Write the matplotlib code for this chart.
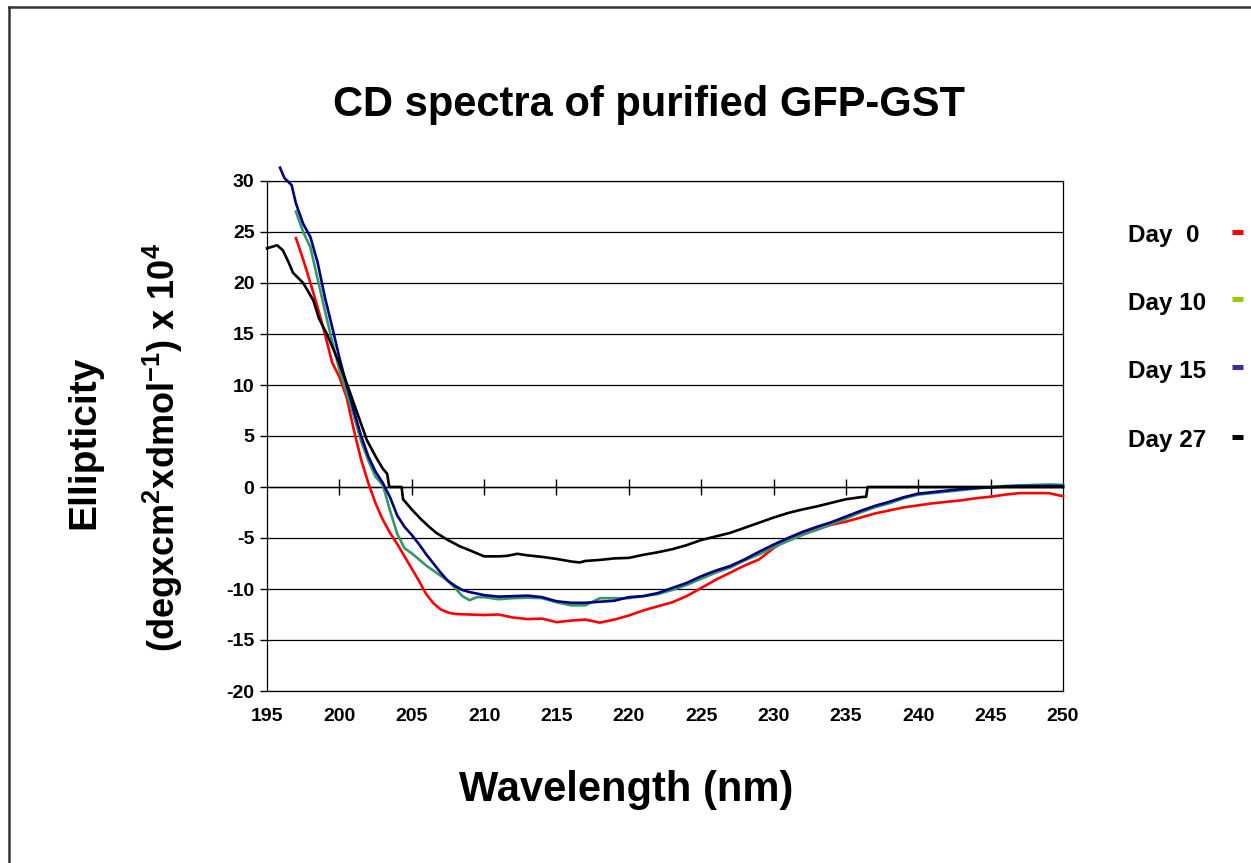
# cd_spectra.py
# CD spectra of purified GFP-GST, Excel-style layout

import matplotlib
matplotlib.use("Agg")
import matplotlib.pyplot as plt
from matplotlib.lines import Line2D

plt.rcParams["font.family"] = ["Liberation Sans", "DejaVu Sans"]
plt.rcParams["font.weight"] = "bold"
plt.rcParams["axes.unicode_minus"] = False
plt.rcParams["mathtext.fontset"] = "custom"
plt.rcParams["mathtext.rm"] = "Liberation Sans:bold"
plt.rcParams["mathtext.it"] = "Liberation Sans:bold"
plt.rcParams["mathtext.bf"] = "Liberation Sans:bold"

# --- data (wavelength nm, ellipticity x 10^4)
wl_day0 = [197.0, 197.5, 198.0, 198.5, 199.0, 199.5, 200.0, 200.5, 201.0, 201.5,
           202.0, 202.5, 203.0, 203.5, 204.0, 204.5, 205.0, 205.5, 206.0, 206.5,
           207.0, 207.5, 208.0, 209.0, 210.0, 211.0, 212.0, 213.0, 214.0, 215.0,
           216.0, 217.0, 218.0, 219.0, 220.0, 221.0, 222.0, 223.0, 224.0, 225.0,
           226.0, 227.0, 228.0, 229.0, 230.0, 231.0, 232.0, 233.0, 234.0, 235.0,
           236.0, 237.0, 238.0, 239.0, 240.0, 241.0, 242.0, 243.0, 244.0, 245.0,
           246.0, 247.0, 248.0, 249.0, 249.5, 250.0]
day0 = [24.4, 22.3, 20.0, 17.6, 15.0, 12.2, 10.8, 8.8, 5.6, 2.7,
        0.4, -1.6, -3.2, -4.5, -5.6, -6.8, -8.0, -9.2, -10.5, -11.4,
        -12.0, -12.3, -12.45, -12.5, -12.55, -12.5, -12.8, -12.95, -12.9, -13.25,
        -13.1, -13.0, -13.3, -13.0, -12.6, -12.1, -11.7, -11.3, -10.7, -9.9,
        -9.1, -8.4, -7.7, -7.1, -6.0, -5.1, -4.5, -4.15, -3.7, -3.4,
        -3.0, -2.6, -2.3, -2.0, -1.8, -1.6, -1.45, -1.3, -1.1, -0.95,
        -0.75, -0.6, -0.6, -0.6, -0.75, -0.9]

wl_day10 = [197.0, 197.5, 198.0, 198.5, 199.0, 199.5, 200.0, 200.5, 201.0, 201.5,
            202.0, 202.5, 203.0, 203.5, 204.0, 204.5, 205.0, 205.5, 206.0, 206.5,
            207.0, 207.5, 208.0, 208.5, 209.0, 209.5, 210.0, 211.0, 212.0, 213.0,
            214.0, 215.0, 216.0, 217.0, 218.0, 219.0, 220.0, 221.0, 222.0, 223.0,
            224.0, 225.0, 226.0, 227.0, 228.0, 229.0, 230.0, 231.0, 232.0, 233.0,
            234.0, 235.0, 236.0, 237.0, 238.0, 239.0, 240.0, 241.0, 242.0, 243.0,
            244.0, 245.0, 246.0, 247.0, 248.0, 249.0, 250.0]
day10 = [27.0, 25.0, 23.5, 20.4, 17.3, 14.3, 11.5, 9.2, 7.0, 4.5,
         2.6, 1.0, 0.2, -2.3, -4.6, -6.0, -6.5, -7.1, -7.7, -8.2,
         -8.7, -9.2, -9.9, -10.7, -11.1, -10.8, -10.8, -11.0, -10.9, -10.85,
         -10.9, -11.3, -11.6, -11.6, -10.9, -10.9, -10.9, -10.7, -10.5, -10.1,
         -9.6, -9.0, -8.4, -7.9, -7.2, -6.6, -5.9, -5.3, -4.7, -4.2,
         -3.65, -3.1, -2.5, -2.0, -1.6, -1.1, -0.75, -0.6, -0.45, -0.3,
         -0.15, 0.0, 0.1, 0.15, 0.2, 0.25, 0.2]

wl_day15 = [195.9, 196.2, 196.7, 197.0, 197.5, 198.0, 198.5, 199.0, 199.5, 200.0,
            200.5, 201.0, 201.5, 202.0, 202.5, 203.0, 203.5, 204.0, 204.5, 205.0,
            205.5, 206.0, 206.5, 207.0, 207.5, 208.0, 208.5, 209.0, 210.0, 211.0,
            212.0, 213.0, 214.0, 215.0, 216.0, 217.0, 218.0, 219.0, 220.0, 221.0,
            222.0, 223.0, 224.0, 225.0, 226.0, 227.0, 228.0, 229.0, 230.0, 231.0,
            232.0, 233.0, 234.0, 235.0, 236.0, 237.0, 238.0, 239.0, 240.0, 241.0,
            242.0, 243.0, 244.0, 245.0, 246.0, 247.0, 248.0, 249.0, 250.0]
day15 = [31.3, 30.3, 29.6, 27.8, 25.8, 24.5, 22.0, 18.6, 15.7, 12.7,
         10.0, 7.5, 5.0, 3.0, 1.5, 0.4, -1.0, -2.8, -3.9, -4.7,
         -5.6, -6.6, -7.5, -8.4, -9.2, -9.7, -10.1, -10.3, -10.6, -10.75,
         -10.7, -10.65, -10.8, -11.2, -11.35, -11.35, -11.25, -11.15, -10.8, -10.7,
         -10.4, -9.9, -9.4, -8.75, -8.2, -7.75, -7.1, -6.35, -5.65, -5.0,
         -4.4, -3.9, -3.45, -2.9, -2.35, -1.85, -1.45, -1.0, -0.65, -0.5,
         -0.35, -0.2, -0.1, -0.05, 0.05, 0.1, 0.1, 0.1, 0.1]

wl_day27 = [195.0, 195.7, 196.1, 196.5, 196.8, 197.5, 198.2, 198.6, 199.1, 199.5,
            199.9, 200.5, 201.0, 201.5, 201.9, 202.5, 203.0, 203.3, 203.45, 204.3,
            204.4, 205.0, 205.6, 206.2, 206.7, 207.5, 208.3, 209.0, 209.5, 210.0,
            211.0, 211.6, 212.3, 213.0, 214.0, 215.0, 216.0, 216.6, 217.0, 218.0,
            219.0, 220.0, 221.0, 222.0, 223.0, 224.0, 225.0, 226.0, 227.0, 228.0,
            229.0, 230.0, 231.0, 232.0, 233.0, 234.0, 235.0, 236.0, 236.4, 236.5,
            237.0, 250.0]
day27 = [23.4, 23.7, 23.2, 22.0, 21.0, 20.0, 18.3, 16.5, 15.1, 13.8,
         12.45, 10.2, 8.2, 6.2, 4.6, 3.0, 1.8, 1.3, 0.0, 0.0,
         -1.2, -2.2, -3.1, -3.9, -4.5, -5.2, -5.8, -6.2, -6.5, -6.8,
         -6.8, -6.75, -6.55, -6.7, -6.85, -7.05, -7.3, -7.4, -7.25, -7.15,
         -7.0, -6.95, -6.65, -6.4, -6.1, -5.7, -5.2, -4.85, -4.5, -4.0,
         -3.5, -3.0, -2.55, -2.2, -1.9, -1.55, -1.2, -1.0, -0.95, 0.0,
         0.0, 0.0]

labels = ["Day  0", "Day 10", "Day 15", "Day 27"]
line_colors = ["#ff0000", "#339966", "#000080", "#000000"]
key_colors = ["#ff0000", "#99cc00", "#333399", "#000000"]

x_ticks = list(range(195, 251, 5))
y_ticks = list(range(-20, 31, 5))

W, H = 1251, 863
fig = plt.figure(figsize=(W / 100, H / 100), dpi=100)
ax = fig.add_axes([267 / W, 1 - 691 / H, (1063 - 267) / W, (691 - 181) / H])

series = [(wl_day0, day0), (wl_day10, day10), (wl_day15, day15), (wl_day27, day27)]
for (wl, vals), c in zip(series, line_colors):
    ax.plot(wl, vals, color=c, lw=1.9, clip_on=False, zorder=3)

ax.set_xlim(195, 250)
ax.set_ylim(-20, 30)
ax.set_xticks(x_ticks)
ax.set_yticks(y_ticks)
ax.tick_params(axis="x", length=0, labelsize=14, pad=12)
ax.tick_params(axis="y", direction="out", length=5, width=1, labelsize=14, pad=4)
ax.yaxis.grid(True, color="black", lw=0.9)
ax.set_axisbelow(True)
for s in ax.spines.values():
    s.set_linewidth(0.9)

# x axis crosses at zero, like in Excel
zero_ax = ax.secondary_xaxis((0 - (-20)) / 50)
zero_ax.set_xticks(x_ticks[1:-1])
zero_ax.tick_params(direction="inout", length=12, width=1, labelbottom=False)
zero_ax.spines["bottom"].set_linewidth(1.0)

fig.text(649 / W, 1 - 105 / H, "CD spectra of purified GFP-GST",
         ha="center", va="center", fontsize=30, fontweight="bold")
fig.text(626 / W, 1 - 790 / H, "Wavelength (nm)",
         ha="center", va="center", fontsize=30, fontweight="bold")
fig.text(84 / W, 1 - 442 / H, "Ellipticity", rotation=90,
         ha="center", va="center", fontsize=28, fontweight="bold")
fig.text(163 / W, 1 - 447 / H,
         r"(degxcm$^{\mathrm{2}}$xdmol$^{\mathrm{-1}}$) x 10$^{\mathrm{4}}$",
         rotation=90, ha="center", va="center", fontsize=26, fontweight="bold")

# legend: left-aligned labels with short colour keys on the right
label_baselines = [242, 310, 378, 447]
key_centres = [231.5, 299, 367.5, 437]
for lab, kc, yb, yk in zip(labels, key_colors, label_baselines, key_centres):
    fig.text(1128 / W, 1 - yb / H, lab, ha="left", va="baseline",
             fontsize=17.5, fontweight="bold")
    fig.add_artist(Line2D([1232 / W, 1243 / W], [1 - yk / H, 1 - yk / H], color=kc,
                          lw=3.6, solid_capstyle="butt", transform=fig.transFigure))

# outer chart frame (only top and left edges fit in the picture)
fig.add_artist(Line2D([9 / W, 9 / W], [0, 1 - 7 / H], color="#333333", lw=1.8,
                      transform=fig.transFigure))
fig.add_artist(Line2D([9 / W, 1], [1 - 7 / H, 1 - 7 / H], color="#333333", lw=1.8,
                      transform=fig.transFigure))

fig.savefig("out.png", dpi=100)
